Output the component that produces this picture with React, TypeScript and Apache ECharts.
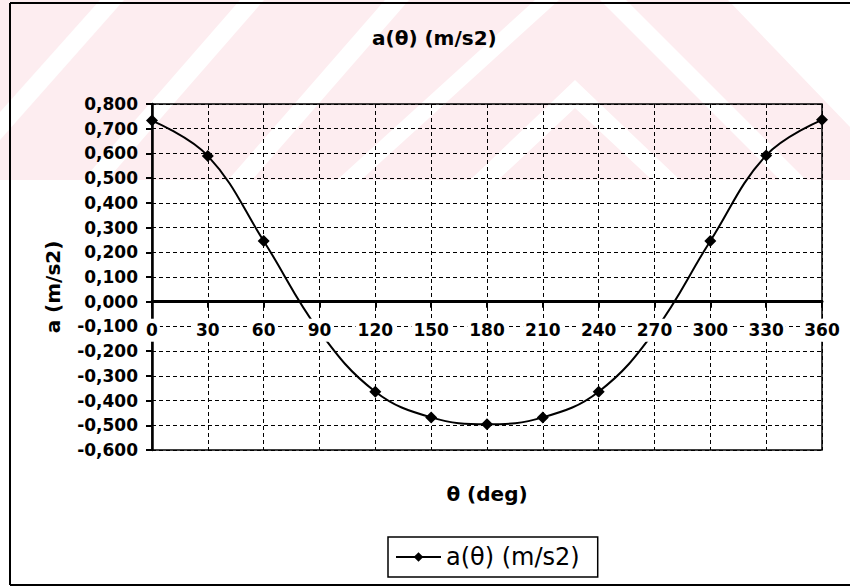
import React, { useEffect, useRef } from "react";
import * as echarts from "echarts";

const categories = ["0", "30", "60", "90", "120", "150", "180", "210", "240", "270", "300", "330", "360"];
const accel = [0.733, 0.59, 0.246, -0.12, -0.364, -0.468, -0.496, -0.468, -0.364, -0.12, 0.246, 0.592, 0.736];
const seriesName = "a(θ) (m/s2)";
const titleText = "a(θ) (m/s2)";
const xName = "θ (deg)";
const yName = "a (m/s2)";
const yMin = -0.6;
const yMax = 0.8;
const yStep = 0.1;

const FONT = "'DejaVu Sans', sans-serif";
const PINK = "#fdedf0";

const GRID_TOP = 104;
const GRID_BOTTOM_Y = 450;

const white = (points: number[][]) => ({
  type: "polygon",
  z: -9,
  silent: true,
  shape: { points },
  style: { fill: "#ffffff" },
});

export default function App() {
  const ref = useRef<HTMLDivElement>(null);
  useEffect(() => {
    if (!ref.current) return;
    const chart = echarts.init(ref.current, undefined, { renderer: "svg" });
    const fmt = (v: number) => {
      const x = Math.abs(v) < 1e-9 ? 0 : v;
      return x.toFixed(3).replace(".", ",");
    };
    // distance of the zero line above the bottom of the plot, used to put the category axis on zero
    const zeroOffset = ((0 - yMin) / (yMax - yMin)) * (GRID_BOTTOM_Y - GRID_TOP);
    chart.setOption({
      animation: false,
      title: {
        text: titleText,
        left: 367,
        top: 23,
        textStyle: { fontFamily: FONT, fontSize: 20, fontWeight: "bold", color: "#000" },
      },
      grid: {
        left: 152,
        right: 28,
        top: GRID_TOP,
        bottom: 586 - GRID_BOTTOM_Y,
        show: true,
        borderColor: "#000",
        borderWidth: 1.5,
        backgroundColor: "transparent",
      },
      legend: {
        data: [seriesName],
        left: 388,
        top: 537,
        borderColor: "#000",
        borderWidth: 1.5,
        padding: [8, 18, 8, 7],
        itemWidth: 45,
        itemHeight: 12,
        textStyle: { fontFamily: FONT, fontSize: 24, color: "#000" },
      },
      xAxis: [
        {
          type: "category",
          data: categories,
          boundaryGap: false,
          position: "bottom",
          axisLine: { show: false, onZero: false },
          axisTick: { show: false },
          axisLabel: { show: false },
          splitLine: { show: true, lineStyle: { color: "#000", type: [4, 3], width: 1 } },
          name: xName,
          nameLocation: "middle",
          nameGap: 34,
          nameTextStyle: { fontFamily: FONT, fontSize: 20, fontWeight: "bold", color: "#000" },
        },
        {
          type: "category",
          data: categories,
          boundaryGap: false,
          position: "bottom",
          offset: -zeroOffset,
          z: 5,
          axisLine: { show: true, onZero: false, lineStyle: { color: "#000", width: 3 } },
          axisTick: { show: true, length: 6, lineStyle: { color: "#000", width: 2 } },
          axisLabel: {
            margin: 17,
            fontFamily: FONT,
            fontSize: 17,
            fontWeight: "bold",
            color: "#000",
            backgroundColor: "#fff",
            padding: [3, 2, 3, 2],
          },
          splitLine: { show: false },
        },
      ],
      yAxis: {
        type: "value",
        min: yMin,
        max: yMax,
        interval: yStep,
        axisLine: { show: true, onZero: false, lineStyle: { color: "#000", width: 2.5 } },
        axisTick: { show: true, length: 6, lineStyle: { color: "#000", width: 2 } },
        axisLabel: {
          margin: 14,
          formatter: fmt,
          fontFamily: FONT,
          fontSize: 17,
          fontWeight: "bold",
          color: "#000",
        },
        splitLine: { show: true, lineStyle: { color: "#000", type: [4, 3], width: 1 } },
      },
      series: [
        {
          type: "line",
          name: seriesName,
          data: accel,
          xAxisIndex: 0,
          smooth: 0.4,
          symbol: "diamond",
          symbolSize: 12,
          lineStyle: { color: "#000", width: 2 },
          itemStyle: { color: "#000" },
        },
      ],
      graphic: [
        { type: "rect", z: -10, silent: true, shape: { x: 0, y: 0, width: 850, height: 180 }, style: { fill: PINK } },
        white([[100, 0], [124, 0], [0, 140], [0, 112]]),
        white([[240, 0], [264, 0], [107, 180], [83, 180]]),
        white([[385, 0], [409, 0], [252, 180], [228, 180]]),
        white([[535, 0], [559, 0], [361, 180], [337, 180]]),
        white([[575, 80], [680, 180], [652, 180], [575, 108], [498, 180], [470, 180]]),
        white([[600, 0], [626, 0], [806, 180], [780, 180]]),
        white([[728, 0], [850, 0], [850, 127]]),
        {
          type: "text",
          silent: true,
          x: 53,
          y: 287,
          rotation: Math.PI / 2,
          style: {
            text: yName,
            fontFamily: FONT,
            fontSize: 20,
            fontWeight: "bold",
            fill: "#000",
            align: "center",
            verticalAlign: "middle",
          },
        },
        { type: "line", silent: true, z: 10, shape: { x1: 10, y1: 3, x2: 850, y2: 3 }, style: { stroke: "#000", lineWidth: 2 } },
        { type: "line", silent: true, z: 10, shape: { x1: 10, y1: 3, x2: 10, y2: 585 }, style: { stroke: "#000", lineWidth: 2 } },
        { type: "line", silent: true, z: 10, shape: { x1: 10, y1: 585, x2: 850, y2: 585 }, style: { stroke: "#000", lineWidth: 2 } },
      ],
    });
    return () => chart.dispose();
  }, []);
  return (
    <div
      ref={ref}
      style={{ position: "fixed", left: 0, top: 0, width: 850, height: 586, background: "#fff" }}
    />
  );
}
